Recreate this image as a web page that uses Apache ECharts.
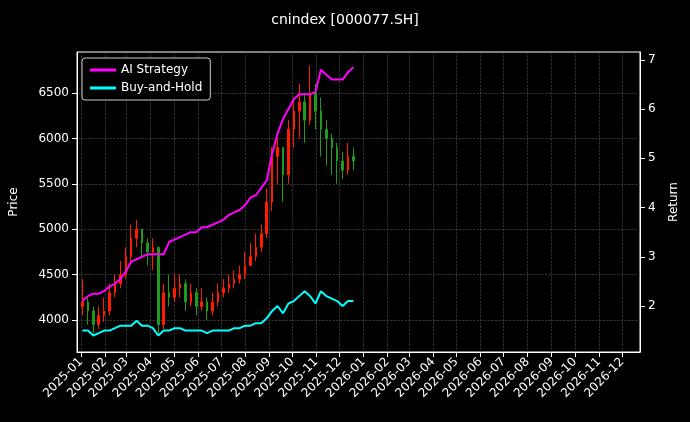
<!DOCTYPE html>
<html><head><meta charset="utf-8">
<script src="https://cdn.jsdelivr.net/npm/echarts@6/dist/echarts.min.js"></script>
<style>html,body{margin:0;background:#000}#c{width:690px;height:422px}</style>
</head><body><div id="c"></div>
<script>
// weekly closes (Fri), starting 2025-01-03
var closes = [4200,4100,3950,4050,4100, 4300,4400,4500,4700, 4900,5000,4850,4750, 4800,3950,4300,4250,
  4350,4400,4200,4300,4150, 4200,4100,4200,4300, 4350,4400,4450,4500, 4600,4700,4800,4950,5300,
  5800,5900,5600,6100, 6300,6400,6200,6500,6300, 6100,6000,5900,5750, 5650,5800,5750];
var lows = [4050,3950,3850,3900,3980, 4050,4250,4350,4450, 4650,4800,4700,4600, 4550,3850,3900,4150,
  4200,4250,4100,4150,4050, 4100,4000,4050,4150, 4250,4300,4350,4400, 4450,4600,4650,4750,4900,
  5200,5500,5300,5500, 5900,6000,5950,6150,6100, 5800,5700,5600,5500, 5550,5600,5650];
var highs = [4450,4250,4150,4150,4250, 4400,4500,4650,4800, 5050,5100,5000,4900, 4900,4800,4400,4500,
  4500,4500,4450,4400,4350, 4350,4250,4300,4400, 4450,4500,4550,4600, 4750,4850,4950,5050,5450,
  5900,6000,5900,6200, 6450,6600,6500,6800,6600, 6450,6200,6050,5950, 5850,5950,5900];
var aiStrategy = [2.1,2.2,2.25,2.25,2.3, 2.4,2.45,2.55,2.7, 2.9,2.95,3.0,3.05, 3.05,3.05,3.05,3.3,
  3.35,3.4,3.45,3.5,3.5, 3.6,3.6,3.65,3.7, 3.75,3.85,3.9,3.95, 4.05,4.2,4.25,4.4,4.55,
  5.1,5.5,5.8,6.0, 6.2,6.3,6.3,6.3,6.35, 6.8,6.7,6.6,6.6, 6.6,6.75,6.85];
var buyHold = [1.5,1.5,1.4,1.45,1.5, 1.5,1.55,1.6,1.6, 1.6,1.7,1.6,1.6, 1.55,1.4,1.5,1.5,
  1.55,1.55,1.5,1.5,1.5, 1.5,1.45,1.5,1.5, 1.5,1.5,1.55,1.55, 1.6,1.6,1.65,1.65,1.75,
  1.9,2.0,1.85,2.05, 2.1,2.2,2.3,2.2,2.05, 2.3,2.2,2.15,2.1, 2.0,2.1,2.1];
var priceTicks = [4000, 4500, 5000, 5500, 6000, 6500];
var returnTicks = [2, 3, 4, 5, 6, 7];
var startDate = Date.UTC(2025, 0, 3);
var dates = closes.map(function (_, i) { return startDate + i * 7 * 86400000; });

try {
  var kdata = closes.map(function (c, i) {
    var o = i === 0 ? 4150 : closes[i - 1];
    return [dates[i], o, c, lows[i], highs[i]];
  });
  var gridLine = { show: true, lineStyle: { color: '#555', type: 'dashed', width: 0.6 } };
  var txt = { color: '#fff', fontSize: 12, fontFamily: 'DejaVu Sans' };
  var chart = echarts.init(document.getElementById('c'));
  chart.setOption({
    backgroundColor: '#000',
    animation: false,
    title: { text: 'cnindex [000077.SH]', left: 'center', top: 8,
      textStyle: { color: '#fff', fontSize: 14, fontWeight: 'normal', fontFamily: 'DejaVu Sans' } },
    grid: { left: 74, right: 50, top: 52, bottom: 70, show: true, borderColor: '#fff', borderWidth: 1 },
    legend: { left: 82, top: 58, orient: 'vertical', itemGap: 6, itemWidth: 26, itemHeight: 3, icon: 'rect',
      padding: [6, 8], borderColor: '#ccc', borderWidth: 1, borderRadius: 3, backgroundColor: '#000',
      textStyle: txt, data: ['AI Strategy', 'Buy-and-Hold'] },
    xAxis: {
      type: 'time', min: Date.UTC(2024, 11, 27), max: Date.UTC(2026, 11, 24),
      splitNumber: 24, minInterval: 28 * 86400000, maxInterval: 31 * 86400000,
      axisLine: { lineStyle: { color: '#fff' } }, axisTick: { lineStyle: { color: '#fff' } },
      axisLabel: Object.assign({ rotate: 45, formatter: '{yyyy}-{MM}', hideOverlap: false }, txt),
      splitLine: gridLine
    },
    yAxis: [
      { type: 'value', name: 'Price', nameLocation: 'middle', nameGap: 57, nameTextStyle: txt,
        min: 3648, max: 6951,
        axisLabel: Object.assign({ customValues: priceTicks, formatter: function (v) { return String(v); } }, txt),
        axisTick: { show: true, customValues: priceTicks },
        axisLine: { show: true, lineStyle: { color: '#fff' } },
        splitLine: gridLine },
      { type: 'value', name: 'Return', nameLocation: 'middle', nameGap: 28, nameTextStyle: txt,
        min: 1.065, max: 7.16,
        axisLabel: Object.assign({ customValues: returnTicks }, txt),
        axisTick: { show: true, customValues: returnTicks },
        axisLine: { show: true, lineStyle: { color: '#fff' } },
        splitLine: { show: false } }
    ],
    series: [
      { type: 'candlestick', data: kdata, barWidth: 2, yAxisIndex: 0,
        itemStyle: { color: '#ff1a00', color0: '#1f9a1f', borderColor: '#ff1a00', borderColor0: '#1f9a1f', borderWidth: 1 } },
      { name: 'AI Strategy', type: 'line', yAxisIndex: 1, showSymbol: false,
        data: dates.map(function (d, i) { return [d, aiStrategy[i]]; }),
        lineStyle: { color: '#ff00ff', width: 2 }, itemStyle: { color: '#ff00ff' } },
      { name: 'Buy-and-Hold', type: 'line', yAxisIndex: 1, showSymbol: false,
        data: dates.map(function (d, i) { return [d, buyHold[i]]; }),
        lineStyle: { color: '#00ffff', width: 2 }, itemStyle: { color: '#00ffff' } }
    ]
  });
} catch (error) {
  console.error('Failed to draw chart');
  console.error(error);
}
</script></body></html>
